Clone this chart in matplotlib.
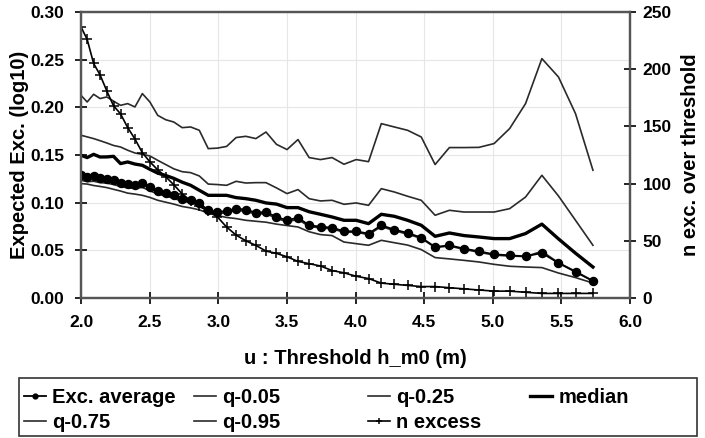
import numpy as np
import matplotlib.pyplot as plt
from matplotlib.patches import Rectangle
from matplotlib.ticker import MultipleLocator, FormatStrFormatter

plt.rcParams['font.family'] = ['Liberation Sans', 'DejaVu Sans']
plt.rcParams['font.weight'] = 'bold'
plt.rcParams['axes.labelweight'] = 'bold'

# thresholds (m)
u = [2.000, 2.045, 2.092, 2.139, 2.188, 2.237, 2.288, 2.340, 2.393, 2.447,
     2.502, 2.559, 2.617, 2.676, 2.737, 2.799, 2.862, 2.927, 2.993, 3.061,
     3.130, 3.201, 3.274, 3.348, 3.424, 3.501, 3.581, 3.662, 3.745, 3.829,
     3.916, 4.005, 4.095, 4.188, 4.283, 4.380, 4.479, 4.580, 4.684, 4.790,
     4.899, 5.010, 5.123, 5.239, 5.358, 5.479, 5.603, 5.730]

exc_avg = [0.1290, 0.1270, 0.1277, 0.1259, 0.1252, 0.1235, 0.1206, 0.1193, 0.1182, 0.1206,
           0.1164, 0.1122, 0.1101, 0.1077, 0.1042, 0.1025, 0.0997, 0.0920, 0.0902, 0.0913,
           0.0938, 0.0927, 0.0896, 0.0902, 0.0850, 0.0815, 0.0843, 0.0763, 0.0748, 0.0738,
           0.0700, 0.0700, 0.0675, 0.0763, 0.0717, 0.0682, 0.0634, 0.0535, 0.0553, 0.0518,
           0.0490, 0.0458, 0.0448, 0.0437, 0.0472, 0.0367, 0.0273, 0.0178]

q05 = [0.1200, 0.1195, 0.1180, 0.1170, 0.1158, 0.1140, 0.1122, 0.1100, 0.1090, 0.1077,
       0.1055, 0.1025, 0.1005, 0.0985, 0.0960, 0.0945, 0.0925, 0.0890, 0.0865, 0.0845,
       0.0833, 0.0815, 0.0805, 0.0795, 0.0775, 0.0760, 0.0745, 0.0695, 0.0665, 0.0655,
       0.0587, 0.0570, 0.0553, 0.0605, 0.0580, 0.0555, 0.0508, 0.0424, 0.0410, 0.0395,
       0.0378, 0.0353, 0.0333, 0.0325, 0.0319, 0.0262, 0.0214, 0.0157]

q25 = [0.1235, 0.1220, 0.1225, 0.1210, 0.1205, 0.1190, 0.1170, 0.1155, 0.1150, 0.1160,
       0.1125, 0.1090, 0.1070, 0.1045, 0.1015, 0.1000, 0.0975, 0.0905, 0.0885, 0.0895,
       0.0920, 0.0910, 0.0880, 0.0885, 0.0835, 0.0800, 0.0825, 0.0750, 0.0735, 0.0725,
       0.0690, 0.0690, 0.0665, 0.0750, 0.0705, 0.0670, 0.0625, 0.0530, 0.0545, 0.0510,
       0.0480, 0.0450, 0.0440, 0.0435, 0.0490, 0.0370, 0.0280, 0.0180]

median = [0.1497, 0.1473, 0.1507, 0.1479, 0.1480, 0.1486, 0.1410, 0.1427, 0.1405, 0.1392,
          0.1350, 0.1310, 0.1285, 0.1255, 0.1215, 0.1182, 0.1130, 0.1077, 0.1077, 0.1077,
          0.1053, 0.1042, 0.1025, 0.0997, 0.0985, 0.0948, 0.0948, 0.0905, 0.0878, 0.0850,
          0.0815, 0.0815, 0.0780, 0.0878, 0.0857, 0.0815, 0.0763, 0.0647, 0.0682, 0.0655,
          0.0640, 0.0623, 0.0623, 0.0676, 0.0775, 0.0620, 0.0470, 0.0325]

q75 = [0.1707, 0.1690, 0.1672, 0.1650, 0.1626, 0.1600, 0.1584, 0.1550, 0.1521, 0.1507,
       0.1490, 0.1444, 0.1400, 0.1355, 0.1325, 0.1315, 0.1280, 0.1195, 0.1190, 0.1182,
       0.1224, 0.1206, 0.1210, 0.1210, 0.1155, 0.1095, 0.1137, 0.1042, 0.1018, 0.1025,
       0.0983, 0.0997, 0.0972, 0.1147, 0.1112, 0.1067, 0.1025, 0.0868, 0.0920, 0.0902,
       0.0902, 0.0902, 0.0937, 0.1059, 0.1287, 0.1070, 0.0815, 0.0553]

q95 = [0.2126, 0.2056, 0.2137, 0.2092, 0.2109, 0.2065, 0.2021, 0.2039, 0.2004, 0.2144,
       0.2056, 0.1916, 0.1870, 0.1846, 0.1787, 0.1794, 0.1759, 0.1567, 0.1572, 0.1590,
       0.1683, 0.1696, 0.1672, 0.1741, 0.1612, 0.1557, 0.1662, 0.1473, 0.1452, 0.1473,
       0.1403, 0.1452, 0.1430, 0.1829, 0.1794, 0.1759, 0.1689, 0.1400, 0.1578, 0.1578,
       0.1580, 0.1620, 0.1777, 0.2039, 0.2511, 0.2318, 0.1934, 0.1340]

n_excess = [237, 226, 205, 195, 181, 168, 161, 149, 139, 127,
            119, 112, 106, 99, 91, 85, 80, 76, 71, 62,
            55, 50, 46, 41, 39, 36, 32, 30, 28, 24,
            22, 19, 17, 13, 12, 11, 10, 10, 9, 8,
            7, 6, 6, 5, 4, 4, 4, 4]

W, H = 705, 438
fig = plt.figure(figsize=(W / 100, H / 100), dpi=100)
ax = fig.add_axes([81 / W, 1 - 298 / H, 549 / W, 286 / H])
ax2 = ax.twinx()

thin = dict(color='#2a2a2a', lw=1.2)
l_avg, = ax.plot(u, exc_avg, color='black', lw=1.3, marker='o', ms=5.8, zorder=5, label='Exc. average')
l_q05, = ax.plot(u, q05, label='q-0.05', **thin)
l_q25, = ax.plot(u, q25, label='q-0.25', **thin)
l_med, = ax.plot(u, median, color='black', lw=2.4, label='median')
l_q75, = ax.plot(u, q75, label='q-0.75', **thin)
l_q95, = ax.plot(u, q95, label='q-0.95', **thin)
l_n, = ax2.plot(u, n_excess, color='black', lw=1.2, marker='+', ms=7, mew=1.1, label='n excess')

ax.set_xlim(2.0, 6.0)
ax.set_ylim(0, 0.30)
ax2.set_ylim(0, 250)
ax.xaxis.set_major_locator(MultipleLocator(0.5))
ax.yaxis.set_major_locator(MultipleLocator(0.05))
ax2.yaxis.set_major_locator(MultipleLocator(50))
ax.xaxis.set_major_formatter(FormatStrFormatter('%.1f'))
ax.yaxis.set_major_formatter(FormatStrFormatter('%.2f'))
ax.grid(True, color='#e6e6e6', lw=0.8)
ax.set_axisbelow(True)

for a in (ax, ax2):
    a.tick_params(direction='inout', length=8, width=1.2, colors='black',
                  labelsize=12.5)
    for s in a.spines.values():
        s.set_color('#555555')
        s.set_linewidth(1.6)
    for t in a.get_xticklabels() + a.get_yticklabels():
        t.set_fontweight('bold')
ax.tick_params(axis='x', pad=8)
ax.tick_params(axis='y', pad=8)
ax2.tick_params(axis='y', pad=5)

ax.set_xlabel('u : Threshold h_m0 (m)', fontsize=14.5, labelpad=14)
ax.set_ylabel('Expected Exc. (log10)', fontsize=14.5, labelpad=1)
ax2.set_ylabel('n exc. over threshold', fontsize=14.5, labelpad=7)

# legend: four columns at fixed positions inside one box
columns = [([l_avg, l_q75], 24), ([l_q05, l_q95], 194), ([l_q25, l_n], 368), ([l_med], 530)]
for hs, xpix in columns:
    lg = fig.legend(hs, [h.get_label() for h in hs], loc='upper left',
                    bbox_to_anchor=(xpix / W, 1 - 388 / H), frameon=False,
                    fontsize=14.5, borderpad=0, borderaxespad=0,
                    handlelength=1.1, handletextpad=0.3, labelspacing=0.3,
                    markerscale=0.6)
fig.patches.append(Rectangle((19 / W, 1 - 436 / H), 678 / W, 58 / H,
                             transform=fig.transFigure, fill=False,
                             edgecolor='#333333', lw=1.2))

fig.savefig('out.png', dpi=100)
